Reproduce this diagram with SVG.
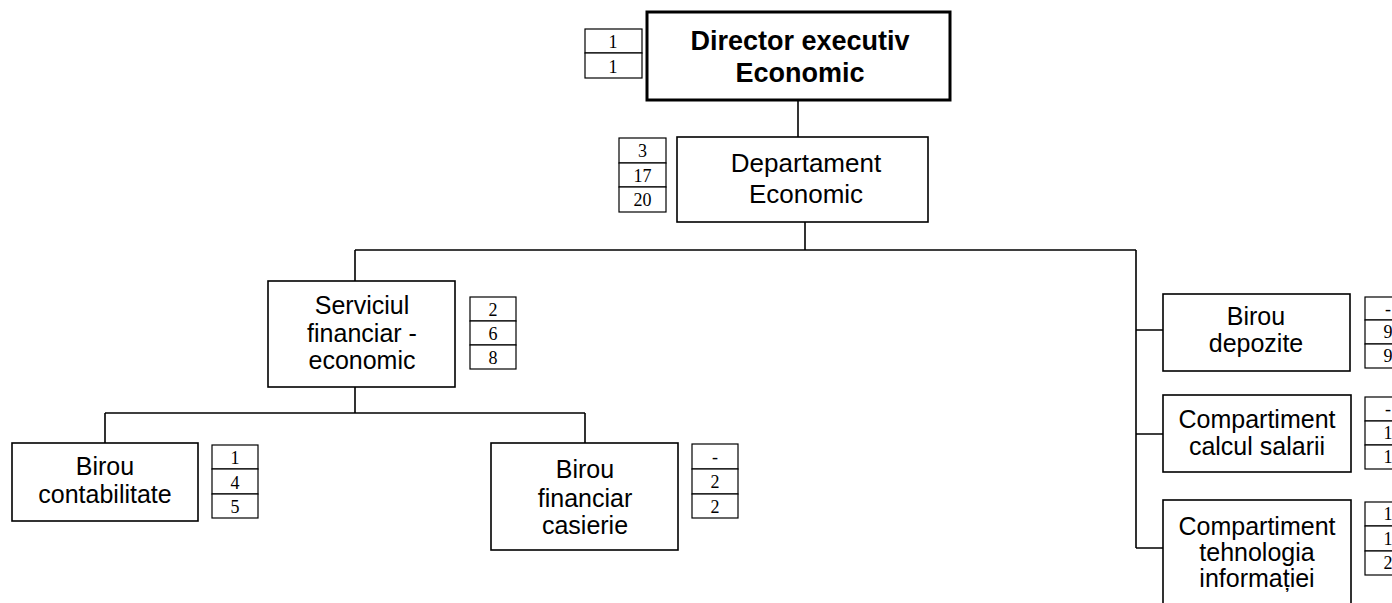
<svg xmlns="http://www.w3.org/2000/svg" width="1392" height="603" viewBox="0 0 1392 603">
<style>
.box{fill:#fff;stroke:#000;stroke-width:1.6}
.boxb{fill:#fff;stroke:#000;stroke-width:3}
.num{fill:#fff;stroke:#000;stroke-width:1.2}
.t{font-family:"Liberation Sans",Arial,sans-serif;font-size:25px;text-anchor:middle;fill:#000}
.tb{font-family:"Liberation Sans",Arial,sans-serif;font-size:27px;font-weight:bold;text-anchor:middle;fill:#000}
.n{font-family:"Liberation Serif","Times New Roman",serif;font-size:18px;text-anchor:middle;fill:#000}
.c{fill:none;stroke:#000;stroke-width:1.6}
</style>
<rect width="1392" height="603" fill="#fff"/>
<g id="connectors">
<path class="c" d="M798,100V137"/>
<path class="c" d="M805,222V250M355,250H1136M355,250V281"/>
<path class="c" d="M1136,250V548M1136,330H1163M1136,434H1163M1136,548H1163"/>
<path class="c" d="M355,387V413M105,413H585M105,413V443M585,413V443"/>
</g>
<g id="director">
<rect class="boxb" x="647" y="12" width="303" height="88"/>
<text class="tb" x="800" y="50">Director executiv</text>
<text class="tb" x="800" y="82">Economic</text>
<rect class="num" x="585" y="29" width="57" height="24"/>
<rect class="num" x="585" y="53" width="57" height="25"/>
<text class="n" x="613" y="48">1</text>
<text class="n" x="613" y="73">1</text>
</g>
<g id="departament">
<rect class="box" x="677" y="137" width="251" height="85"/>
<text class="t" x="806" y="172" style="font-size:26px">Departament</text>
<text class="t" x="806" y="203" style="font-size:26px">Economic</text>
<rect class="num" x="619" y="138" width="47" height="25"/>
<rect class="num" x="619" y="163" width="47" height="24"/>
<rect class="num" x="619" y="187" width="47" height="25"/>
<text class="n" x="642.5" y="157">3</text>
<text class="n" x="642.5" y="182">17</text>
<text class="n" x="642.5" y="206">20</text>
</g>
<g id="serviciul">
<rect class="box" x="268" y="281" width="187" height="106"/>
<text class="t" x="362" y="314">Serviciul</text>
<text class="t" x="362" y="342">financiar -</text>
<text class="t" x="362" y="369">economic</text>
<rect class="num" x="470" y="297" width="46" height="24"/>
<rect class="num" x="470" y="321" width="46" height="24"/>
<rect class="num" x="470" y="345" width="46" height="24"/>
<text class="n" x="493" y="316">2</text>
<text class="n" x="493" y="340">6</text>
<text class="n" x="493" y="364">8</text>
</g>
<g id="contabilitate">
<rect class="box" x="12" y="443" width="186" height="78"/>
<text class="t" x="105" y="475">Birou</text>
<text class="t" x="105" y="503">contabilitate</text>
<rect class="num" x="212" y="445" width="46" height="24"/>
<rect class="num" x="212" y="469" width="46" height="25"/>
<rect class="num" x="212" y="494" width="46" height="24"/>
<text class="n" x="235" y="464">1</text>
<text class="n" x="235" y="489">4</text>
<text class="n" x="235" y="513">5</text>
</g>
<g id="casierie">
<rect class="box" x="491" y="443" width="187" height="107"/>
<text class="t" x="585" y="478">Birou</text>
<text class="t" x="585" y="507">financiar</text>
<text class="t" x="585" y="534">casierie</text>
<rect class="num" x="692" y="444" width="46" height="25"/>
<rect class="num" x="692" y="469" width="46" height="25"/>
<rect class="num" x="692" y="494" width="46" height="24"/>
<text class="n" x="715" y="463">-</text>
<text class="n" x="715" y="488">2</text>
<text class="n" x="715" y="513">2</text>
</g>
<g id="depozite">
<rect class="box" x="1163" y="294" width="187" height="77"/>
<text class="t" x="1256" y="325">Birou</text>
<text class="t" x="1256" y="352">depozite</text>
<rect class="num" x="1365" y="297" width="46" height="23"/>
<rect class="num" x="1365" y="320" width="46" height="24"/>
<rect class="num" x="1365" y="344" width="46" height="24"/>
<text class="n" x="1388" y="315">-</text>
<text class="n" x="1388" y="338">9</text>
<text class="n" x="1388" y="362">9</text>
</g>
<g id="salarii">
<rect class="box" x="1163" y="395" width="188" height="77"/>
<text class="t" x="1257" y="428">Compartiment</text>
<text class="t" x="1257" y="455">calcul salarii</text>
<rect class="num" x="1365" y="397" width="46" height="24"/>
<rect class="num" x="1365" y="421" width="46" height="24"/>
<rect class="num" x="1365" y="445" width="46" height="24"/>
<text class="n" x="1388" y="415">-</text>
<text class="n" x="1388" y="439">1</text>
<text class="n" x="1388" y="463">1</text>
</g>
<g id="tehnologia">
<rect class="box" x="1163" y="500" width="188" height="115"/>
<text class="t" x="1257" y="535">Compartiment</text>
<text class="t" x="1257" y="561">tehnologia</text>
<text class="t" x="1257" y="587">informației</text>
<rect class="num" x="1365" y="502" width="46" height="24"/>
<rect class="num" x="1365" y="526" width="46" height="25"/>
<rect class="num" x="1365" y="551" width="46" height="24"/>
<text class="n" x="1388" y="520">1</text>
<text class="n" x="1388" y="545">1</text>
<text class="n" x="1388" y="569">2</text>
</g>
</svg>
